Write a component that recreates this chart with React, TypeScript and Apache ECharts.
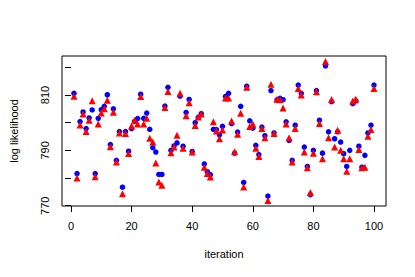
import React, { useEffect, useRef } from "react";
import * as echarts from "echarts";

const blueValues: number[] = [
  810.6, 781.6, 800.4, 803.9, 797.9, 801.7, 804.6, 781.6, 801.6, 804.7,
  805.9, 810.1, 792.1, 805.0, 786.4, 796.8, 776.7, 796.8, 789.7, 797.9,
  800.5, 801.5, 810.3, 801.6, 803.5, 797.6, 791.0, 789.4, 781.3, 781.3,
  806.0, 812.8, 790.0, 791.6, 792.7, 809.6, 791.5, 803.7, 808.4, 789.6,
  800.0, 801.9, 803.3, 785.1, 782.3, 781.2, 797.6, 797.5, 795.6, 798.7,
  809.5, 810.6, 799.7, 789.0, 796.6, 805.9, 778.4, 813.2, 800.7, 798.0,
  791.8, 788.5, 798.4, 795.3, 773.5, 811.6, 796.3, 808.2, 808.8, 808.3,
  800.3, 793.6, 786.4, 799.1, 813.6, 810.6, 791.2, 784.2, 774.0, 790.0,
  811.6, 800.9, 789.0, 820.5, 796.7, 807.6, 794.2, 796.7, 793.0, 788.8,
  784.2, 790.0, 806.9, 807.9, 791.5, 783.9, 788.2, 796.3, 799.1, 813.6,
];

const redValues: number[] = [
  809.6, 780.0, 799.2, 803.1, 796.8, 800.9, 807.9, 780.5, 799.5, 803.5,
  805.0, 808.1, 791.3, 803.8, 785.8, 796.3, 774.3, 796.1, 788.9, 798.8,
  800.9, 799.5, 809.5, 799.5, 801.6, 794.4, 793.0, 785.4, 778.6, 777.4,
  805.5, 811.3, 789.1, 791.2, 795.5, 810.6, 790.8, 802.5, 807.2, 789.4,
  799.0, 802.1, 803.1, 783.9, 781.6, 780.4, 800.3, 797.0, 794.2, 797.4,
  808.9, 808.9, 800.6, 789.5, 795.8, 803.4, 776.8, 812.8, 798.6, 799.5,
  790.8, 787.8, 797.9, 794.6, 771.9, 813.9, 796.1, 808.5, 808.3, 805.3,
  799.5, 794.6, 785.8, 797.9, 812.4, 810.0, 789.4, 783.7, 774.8, 789.0,
  811.2, 799.7, 787.0, 822.1, 794.6, 808.4, 791.2, 797.3, 790.0, 787.0,
  782.5, 787.0, 807.8, 808.5, 790.3, 783.7, 783.9, 795.1, 797.5, 812.4,
];

const iterations: number[] = blueValues.map((_, k) => k + 1);
const xTicks: number[] = [0, 20, 40, 60, 80, 100];
const yTicks: number[] = [770, 780, 790, 800, 810, 820];
const yTickLabels: number[] = [770, 790, 810];

const FONT = "Liberation Sans, Arial, Helvetica, sans-serif";

export default function App() {
  const ref = useRef<HTMLDivElement>(null);
  useEffect(() => {
    if (!ref.current) return;
    const chart = echarts.init(ref.current, null, { renderer: "svg" });
    chart.setOption({
      animation: false,
      backgroundColor: "#ffffff",
      grid: {
        left: 56,
        top: 56,
        width: 330,
        height: 150,
        show: true,
        borderColor: "#000000",
        borderWidth: 1,
        backgroundColor: "transparent",
      },
      xAxis: {
        type: "value",
        min: -2.96,
        max: 103.96,
        name: "iteration",
        nameLocation: "middle",
        nameGap: 42,
        nameTextStyle: { fontFamily: FONT, fontSize: 11, color: "#000" },
        axisLine: { show: false },
        splitLine: { show: false },
        axisTick: {
          show: true,
          length: 6,
          lineStyle: { color: "#000" },
          customValues: xTicks,
        },
        axisLabel: {
          show: true,
          margin: 14,
          fontFamily: FONT,
          fontSize: 11,
          color: "#000",
          customValues: xTicks,
        },
      },
      yAxis: {
        type: "value",
        min: 769.9,
        max: 824.1,
        name: "log likelihood",
        nameLocation: "middle",
        nameRotate: 90,
        nameGap: 43,
        nameTextStyle: { fontFamily: FONT, fontSize: 11, color: "#000" },
        axisLine: { show: false },
        splitLine: { show: false },
        axisTick: {
          show: true,
          length: 6,
          lineStyle: { color: "#000" },
          customValues: yTicks,
        },
        axisLabel: {
          show: true,
          rotate: 90,
          margin: 12,
          fontFamily: FONT,
          fontSize: 11,
          color: "#000",
          customValues: yTickLabels,
        },
      },
      series: [
        {
          type: "scatter",
          name: "blue",
          symbol: "circle",
          symbolSize: 5.5,
          itemStyle: { color: "#0000ff", opacity: 1 },
          data: iterations.map((x, k) => [x, blueValues[k]]),
        },
        {
          type: "scatter",
          name: "red",
          symbol: "triangle",
          symbolSize: 7,
          itemStyle: { color: "#ff0000", opacity: 1 },
          data: iterations.map((x, k) => [x, redValues[k]]),
        },
      ],
    });
    return () => chart.dispose();
  }, []);
  return (
    <div
      ref={ref}
      style={{ position: "fixed", left: 0, top: 0, width: 415, height: 277 }}
    />
  );
}
